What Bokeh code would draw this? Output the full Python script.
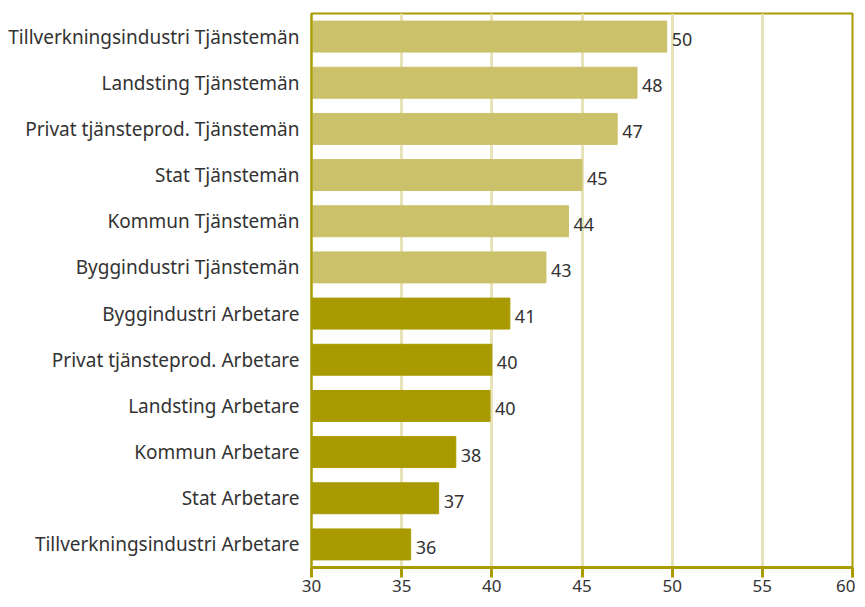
from bokeh.plotting import figure
from bokeh.models import ColumnDataSource, FactorRange, Range1d, FixedTicker
from bokeh.core.properties import value
from bokeh.embed import file_html
from bokeh.resources import INLINE

categories = [
    "Tillverkningsindustri Tjänstemän",
    "Landsting Tjänstemän",
    "Privat tjänsteprod. Tjänstemän",
    "Stat Tjänstemän",
    "Kommun Tjänstemän",
    "Byggindustri Tjänstemän",
    "Byggindustri Arbetare",
    "Privat tjänsteprod. Arbetare",
    "Landsting Arbetare",
    "Kommun Arbetare",
    "Stat Arbetare",
    "Tillverkningsindustri Arbetare",
]
values = [49.7, 48.05, 46.95, 45.0, 44.25, 43.0, 41.0, 40.0, 39.9, 38.0, 37.05, 35.5]
value_labels = ["50", "48", "47", "45", "44", "43", "41", "40", "40", "38", "37", "36"]
groups = ["Tjänstemän"] * 6 + ["Arbetare"] * 6
x_ticks = [30, 35, 40, 45, 50, 55, 60]

color_map = {"Tjänstemän": "#CBC16B", "Arbetare": "#A89A00"}
FONT = "Noto Sans"
OLIVE = "#A89C00"

src = ColumnDataSource(dict(
    cat=categories,
    val=values,
    lab=value_labels,
    color=[color_map[g] for g in groups],
))

p = figure(
    width=855, height=599,
    y_range=FactorRange(*reversed(categories)),
    x_range=Range1d(30, 60),
    output_backend="svg", toolbar_location=None,
    min_border_left=311, min_border_right=3, min_border_top=13, min_border_bottom=32,
)

p.hbar(y="cat", left=30, right="val", height=0.67, color="color", source=src)
p.text(x="val", y="cat", text="lab", source=src,
       text_font=value(FONT), text_font_size="18px", text_color="#333333",
       text_baseline="middle", text_align="left", x_offset=5, y_offset=3)

p.outline_line_color = OLIVE
p.outline_line_width = 2

p.xgrid.grid_line_color = "#E8E2B8"
p.xgrid.grid_line_width = 3
p.ygrid.grid_line_color = None

p.xaxis.ticker = FixedTicker(ticks=x_ticks)
p.xaxis.axis_line_color = OLIVE
p.xaxis.axis_line_width = 3
p.xaxis.major_tick_line_color = OLIVE
p.xaxis.major_tick_line_width = 3
p.xaxis.major_tick_out = 10
p.xaxis.major_tick_in = 0
p.xaxis.minor_tick_line_color = None
p.xaxis.major_label_standoff = 2
p.xaxis.major_label_text_font = FONT
p.xaxis.major_label_text_font_size = "17px"
p.xaxis.major_label_text_color = "#333333"

p.yaxis.axis_line_color = OLIVE
p.yaxis.axis_line_width = 2
p.yaxis.major_tick_line_color = None
p.yaxis.minor_tick_line_color = None
p.yaxis.major_label_standoff = 6
p.yaxis.major_label_text_font = FONT
p.yaxis.major_label_text_font_size = "19px"
p.yaxis.major_label_text_color = "#333333"

open("out.html", "w").write(file_html(p, INLINE))
